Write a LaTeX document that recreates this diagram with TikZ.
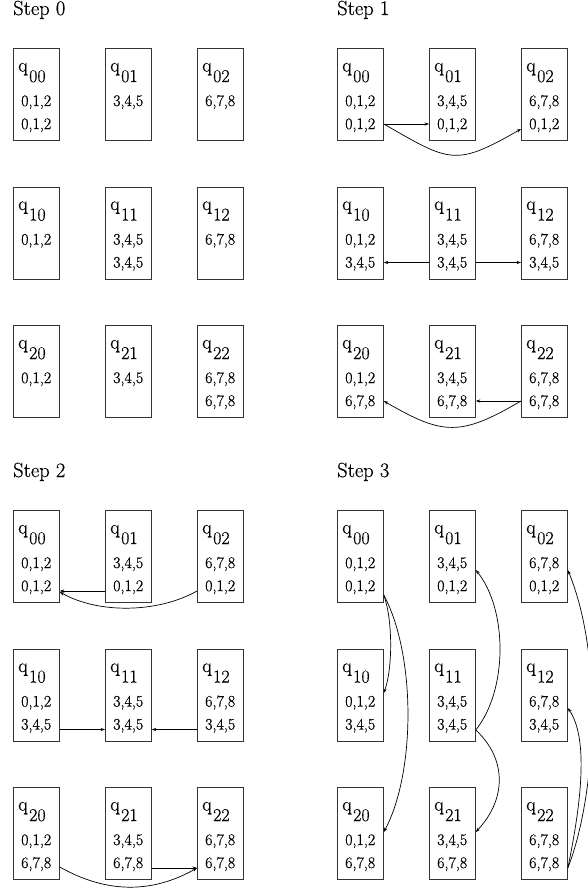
\documentclass[tikz,border=0pt]{standalone}
\usepackage{fontspec}
\setmainfont{Latin Modern Roman}[FakeBold=0.6]
\usetikzlibrary{calc,arrows.meta}
\newcommand{\qbox}[6]{%
  \node[qb, anchor=north west] (#1) at (#2,#3) {};
  \node[qlab] (#1q) at ($(#1.north west)+(5,23.5)$) {q\kern1.5pt\raisebox{-10.5pt}{\fontsize{18}{18}\selectfont #4}};
  \node[num] (#1a) at ($(#1.north west)+(8,58)$) {#5};
  \node[num] (#1b) at ($(#1.north west)+(8,81)$) {#6};
}
\begin{document}
\begin{tikzpicture}[x=1pt,y=-1pt,
  qb/.style={draw=black!80, line width=0.8pt, minimum width=46pt, minimum height=92pt, inner sep=0pt},
  qlab/.style={anchor=base west, inner sep=0pt, font=\fontsize{19.5}{19.5}\selectfont},
  num/.style={anchor=base west, inner sep=0pt, font=\fontsize{16}{16}\selectfont},
  steplab/.style={anchor=base west, inner sep=0pt, font=\fontsize{20.5}{20.5}\selectfont},
  arr/.style={line width=0.7pt, -{Stealth[length=4.5pt,width=3.2pt]}}]
\useasboundingbox (0,0) rectangle (587,888);

% Step labels
\node[steplab] (L0) at (13,15) {Step 0};
\node[steplab] (L1) at (337,15) {Step 1};
\node[steplab] (L2) at (13,477) {Step 2};
\node[steplab] (L3) at (337,477) {Step 3};

% Step 0
\qbox{A00}{13}{48}{00}{0,1,2}{0,1,2}
\qbox{A01}{105}{48}{01}{3,4,5}{}
\qbox{A02}{197}{48}{02}{6,7,8}{}
\qbox{A10}{13}{186.5}{10}{0,1,2}{}
\qbox{A11}{105}{186.5}{11}{3,4,5}{3,4,5}
\qbox{A12}{197}{186.5}{12}{6,7,8}{}
\qbox{A20}{13}{325}{20}{0,1,2}{}
\qbox{A21}{105}{325}{21}{3,4,5}{}
\qbox{A22}{197}{325}{22}{6,7,8}{6,7,8}

% Step 1
\qbox{B00}{337}{48}{00}{0,1,2}{0,1,2}
\qbox{B01}{429}{48}{01}{3,4,5}{0,1,2}
\qbox{B02}{521}{48}{02}{6,7,8}{0,1,2}
\qbox{B10}{337}{186.5}{10}{0,1,2}{3,4,5}
\qbox{B11}{429}{186.5}{11}{3,4,5}{3,4,5}
\qbox{B12}{521}{186.5}{12}{6,7,8}{3,4,5}
\qbox{B20}{337}{325}{20}{0,1,2}{6,7,8}
\qbox{B21}{429}{325}{21}{3,4,5}{6,7,8}
\qbox{B22}{521}{325}{22}{6,7,8}{6,7,8}

% Step 2
\qbox{C00}{13}{510}{00}{0,1,2}{0,1,2}
\qbox{C01}{105}{510}{01}{3,4,5}{0,1,2}
\qbox{C02}{197}{510}{02}{6,7,8}{0,1,2}
\qbox{C10}{13}{648.5}{10}{0,1,2}{3,4,5}
\qbox{C11}{105}{648.5}{11}{3,4,5}{3,4,5}
\qbox{C12}{197}{648.5}{12}{6,7,8}{3,4,5}
\qbox{C20}{13}{787}{20}{0,1,2}{6,7,8}
\qbox{C21}{105}{787}{21}{3,4,5}{6,7,8}
\qbox{C22}{197}{787}{22}{6,7,8}{6,7,8}

% Step 3
\qbox{D00}{337}{510}{00}{0,1,2}{0,1,2}
\qbox{D01}{429}{510}{01}{3,4,5}{0,1,2}
\qbox{D02}{521}{510}{02}{6,7,8}{0,1,2}
\qbox{D10}{337}{648.5}{10}{0,1,2}{3,4,5}
\qbox{D11}{429}{648.5}{11}{3,4,5}{3,4,5}
\qbox{D12}{521}{648.5}{12}{6,7,8}{3,4,5}
\qbox{D20}{337}{787}{20}{0,1,2}{6,7,8}
\qbox{D21}{429}{787}{21}{3,4,5}{6,7,8}
\qbox{D22}{521}{787}{22}{6,7,8}{6,7,8}

% Step 1 connectors
\draw[arr] ($(B00.north east)+(0,76)$) -- ($(B01.north west)+(0,76)$);
\draw[arr] ($(B00.north east)+(0,76)$) .. controls +(66,38) and +(-66,38) .. ($(B02.north west)+(0,81)$);
\draw[arr] ($(B11.north west)+(0,76)$) -- ($(B10.north east)+(0,76)$);
\draw[arr] ($(B11.north east)+(0,76)$) -- ($(B12.north west)+(0,76)$);
\draw[arr] ($(B22.north west)+(0,76)$) -- ($(B21.north east)+(0,76)$);
\draw[arr] ($(B22.north west)+(0,76)$) .. controls +(-60,35) and +(60,35) .. ($(B20.north east)+(0,76)$);

% Step 2 connectors
\draw[arr] ($(C01.north west)+(0,81)$) -- ($(C00.north east)+(0,81)$);
\draw[arr] ($(C02.north west)+(0,81)$) .. controls +(-39,22) and +(39,22) .. ($(C00.north east)+(0,82)$);
\draw[arr] ($(C10.north east)+(0,81)$) -- ($(C11.north west)+(0,81)$);
\draw[arr] ($(C12.north west)+(0,81)$) -- ($(C11.north east)+(0,81)$);
\draw[arr] ($(C21.north east)+(0,81)$) -- ($(C22.north west)+(0,81)$);
\draw[arr] ($(C20.north east)+(0,80)$) .. controls +(46,26) and +(-46,26) .. ($(C22.north west)+(0,81)$);

% Step 3 connectors
\draw[arr] ($(D00.north east)+(0,85)$) .. controls +(9,25) and +(9,-25) .. ($(D10.north east)+(0,44.5)$);
\draw[arr] ($(D00.north east)+(0,85)$) .. controls +(32,60) and +(32,-60) .. ($(D20.north east)+(0,45)$);
\draw[arr] ($(D11.north east)+(0,81.5)$) .. controls +(32,-40) and +(32,40) .. ($(D01.north east)+(0,60)$);
\draw[arr] ($(D11.north east)+(0,81.5)$) .. controls +(32,30) and +(30,-32) .. ($(D21.north east)+(0,45)$);
\draw[arr] ($(D22.north east)+(0,81)$) .. controls +(12,-58) and +(22,32) .. ($(D12.north east)+(0,59.5)$);
\draw[arr] ($(D22.north east)+(0,81)$) .. controls +(27,-68) and +(37,90) .. ($(D02.north east)+(0,60)$);
\end{tikzpicture}
\end{document}
